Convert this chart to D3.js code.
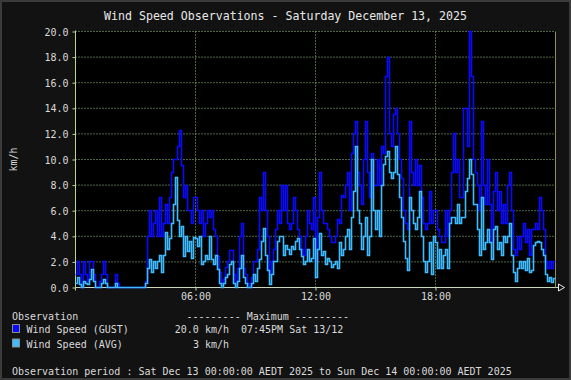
<!DOCTYPE html>
<html>
<head>
<meta charset="utf-8">
<script src="https://cdn.jsdelivr.net/npm/d3@7"></script>
<style>
  body { margin: 0; background: #111; }
  svg { display: block; }
  text { font-family: "DejaVu Sans Mono", monospace; fill: #dadada; }
</style>
</head>
<body>
<svg id="chart" width="571" height="380"></svg>
<script>
// readings every 6 minutes (0.1 h), Sat 13 Dec 2025 00:00 -> 24:00
var stepHours = 0.1

var gust = [
  1, 2, 1, 0, 2, 1, 0.5, 2, 2, 1,              // 00h
  0, 0, 0.5, 1, 2, 1, 0, 0, 0, 0,              // 01h
  1, 0.3, 0, 0, 0, 0, 0, 0, 0, 0,              // 02h
  0, 0, 0, 0, 0, 0.5, 4, 6, 4, 5,              // 03h
  6, 4, 7, 4, 5, 6.5, 5, 7, 9, 10,             // 04h
  10, 11, 12.3, 9.5, 7, 8, 6, 6, 5, 7,         // 05h
  7, 6, 5, 6, 4, 5, 6, 5.5, 6, 4.5,            // 06h
  4, 2.4, 1.2, 0.2, 0.6, 1.6, 2, 2.9, 2.9, 1,  // 07h
  0.2, 1.5, 4, 5, 1.5, 1, 0.3, 0, 0.8, 2,      // 08h
  2, 3, 7, 6, 9, 6, 4, 1, 2, 3,                // 09h
  4.5, 6, 5, 8, 6, 8, 5, 4.5, 5, 7,            // 10h
  6, 4.5, 4, 3, 2.5, 4, 6, 5, 4.5, 7,          // 11h
  2, 5.5, 9, 6, 5, 5, 4.5, 4, 3.5, 3.5,        // 12h
  4, 5.3, 5, 7.2, 7, 8, 9, 6, 10.5, 12,        // 13h
  13, 9, 8, 6.5, 10, 13, 9, 7, 10.5, 8,        // 14h
  8, 10, 8, 11, 10.5, 16.5, 18, 12, 11, 13.5,  // 15h
  14, 12, 10, 8.5, 6, 5, 4.5, 13, 9, 8,        // 16h
  10, 8, 9.5, 7, 5, 4.5, 5, 7.5, 5, 6,         // 17h
  6, 4.5, 4, 3.5, 3.5, 6, 4, 6, 9, 12,         // 18h
  9, 10, 7, 7, 14, 14, 11, 20, 16.5, 10,       // 19h
  9, 8, 6, 13, 8, 6.5, 10, 6.5, 3.5, 7.5,      // 20h
  9, 6, 7.5, 5, 6.5, 5, 8, 9, 6, 3,            // 21h
  2.5, 4, 3, 4, 5, 3.5, 4.5, 2.5, 4.5, 4.5,    // 22h
  5, 4.5, 7, 6, 4.5, 2, 1.5, 2, 1.5, 2         // 23h
]

var avg = [
  0.3, 0.8, 0.2, 0, 0.5, 0.3, 0.2, 0.6, 1.4, 0.5,
  0, 0, 0, 0.3, 0.6, 0.3, 0, 0, 0, 0,
  0.3, 0, 0, 0, 0, 0, 0, 0, 0, 0,
  0, 0, 0, 0, 0, 0.3, 1.5, 2.2, 1.2, 2,
  1.5, 2, 2.5, 1.2, 2.5, 4.3, 3, 3.8, 5, 6.5,
  8.6, 5.2, 4, 4.8, 2.4, 4, 2.8, 3.6, 2.3, 3.9,
  3.8, 3.2, 4, 1.8, 2, 2.5, 2.2, 4, 2.2, 1.8,
  2.5, 1.4, 0.3, 0, 0.3, 0.8, 1, 1.8, 2, 0.3,
  0, 0.5, 1.5, 2.5, 0.8, 0.3, 0, 0, 0.3, 1,
  0.5, 1.5, 2.2, 3.6, 4.6, 2.5, 1.3, 0.2, 1, 2,
  2, 3.6, 4, 4, 2.5, 3.3, 3, 2.6, 3.2, 3,
  3.6, 3.8, 3, 2.4, 1.8, 2, 3, 2, 2.3, 3.8,
  0.8, 3, 4.2, 2.5, 2.8, 1.8, 2.3, 2, 1.6, 1.8,
  2, 1.5, 3.5, 2.5, 3, 4, 4.5, 3, 5.5, 7.5,
  11, 6, 5, 3, 4, 5.5, 2.5, 4, 10, 6,
  4.5, 6, 4, 8, 9.6, 10.2, 10.6, 9, 8.5, 9,
  11, 8.8, 7, 5.5, 3.6, 2.3, 1.3, 7, 6, 5,
  4.5, 5.5, 7.5, 4, 2, 1.2, 2, 3.5, 1, 4,
  3.5, 1.5, 3, 1.5, 2.5, 3, 1.5, 5, 5.5, 5.5,
  5, 6.5, 5, 5.5, 5.5, 7.5, 8.5, 10, 8.8, 6.5,
  6.5, 4.5, 2.5, 7, 3, 3.5, 4.5, 3.5, 2.2, 4.5,
  4.8, 3, 3.5, 2.5, 4, 3.5, 4, 5, 2.5, 1.2,
  0.5, 1.5, 2, 1.5, 2, 1.3, 2.3, 1.2, 1.3, 3.3,
  3.5, 3.6, 3.5, 3, 2.5, 1, 0.5, 0.8, 0.4, 0.7
]

var yTicks = [0, 2, 4, 6, 8, 10, 12, 14, 16, 18, 20]
var xTicks = [6, 12, 18]
var xTickLabels = ["06:00", "12:00", "18:00"]

var title = "Wind Speed Observations - Saturday December 13, 2025"
var seriesNames = ["Wind Speed (GUST)", "Wind Speed (AVG)"]
var seriesMax = ["20.0 km/h", "3 km/h"]
var maxWhen = "07:45PM Sat 13/12"
var period = "Observation period : Sat Dec 13 00:00:00 AEDT 2025 to Sun Dec 14 00:00:00 AEDT 2025"

var gustColor = "#0a0aff", avgColor = "#3fbcff"
var gridColor = "#9ccc8c"

var svg = d3.select("#chart")

svg.append("rect").attr("width", 571).attr("height", 380).attr("fill", "#121212")
svg.append("rect").attr("x", 1).attr("y", 1).attr("width", 569).attr("height", 378)
  .attr("fill", "none").attr("stroke", "#3a3a3a").attr("stroke-width", 2)

var x = d3.scaleLinear().domain([0, 24]).range([75.5, 555.5])
var y = d3.scaleLinear().domain([0, 20]).range([287.5, 31.5])

// plot background
svg.append("rect").attr("x", 75).attr("y", 31).attr("width", 481).attr("height", 257).attr("fill", "#000")

svg.append("text")
  .attr("x", 285.5).attr("y", 19.5)
  .attr("text-anchor", "middle")
  .style("font-size", "11.6px")
  .style("fill", "#e8e8e8")
  .text(title)

// grid
var grid = svg.append("g")
grid.selectAll(".hgrid").data(yTicks.filter(function(d){ return d > 0 }))
  .enter().append("line")
    .attr("x1", x(0)).attr("x2", x(24))
    .attr("y1", function(d){ return y(d) }).attr("y2", function(d){ return y(d) })
    .attr("stroke", gridColor).attr("stroke-dasharray", "1,2")
grid.selectAll(".vgrid").data(xTicks)
  .enter().append("line")
    .attr("x1", function(d){ return x(d) }).attr("x2", function(d){ return x(d) })
    .attr("y1", y(0)).attr("y2", y(20))
    .attr("stroke", gridColor).attr("stroke-dasharray", "1,2")

// axes
var yAxis = d3.axisLeft(y).tickValues(yTicks).tickSize(3).tickFormat(d3.format(".1f"))
var gy = svg.append("g").attr("transform", "translate(" + x(0) + ",0)").call(yAxis)
gy.select(".domain").remove()
gy.selectAll(".tick line").attr("stroke", "#b6d890")
gy.selectAll(".tick text").attr("x", -7).attr("dy", "0.35em")
  .style("font-size", "10px").style("font-family", "DejaVu Sans Mono")

var xAxis = d3.axisBottom(x).tickValues(xTicks).tickSize(3)
  .tickFormat(function(d, i){ return xTickLabels[i] })
var gx = svg.append("g").attr("transform", "translate(0," + y(0) + ")").call(xAxis)
gx.select(".domain").remove()
gx.selectAll(".tick line").attr("stroke", "#c8d8b8")
gx.selectAll(".tick text").attr("y", 5).attr("dy", "0.71em")
  .style("font-size", "10px").style("font-family", "DejaVu Sans Mono")

svg.append("line").attr("x1", x(0)).attr("x2", x(24) + 3).attr("y1", y(0)).attr("y2", y(0))
  .attr("stroke", "#c8d8b8")
svg.append("line").attr("x1", x(0)).attr("x2", x(0)).attr("y1", y(0) + 3).attr("y2", y(20) - 1)
  .attr("stroke", "#b6d890")
svg.append("line").attr("x1", x(24)).attr("x2", x(24)).attr("y1", y(0)).attr("y2", y(20))
  .attr("stroke", "#8e8e48")
// arrow at end of time axis
svg.append("path")
  .attr("d", "M" + (x(24) + 3) + "," + (y(0) - 3.5) + "l6,3.5l-6,3.5z")
  .attr("fill", "none").attr("stroke", "#e8e8e8")

// data
function withEnd(vals){
  var pts = vals.map(function(v, i){ return [i * stepHours, v] })
  pts.push([24, vals[vals.length - 1]])
  return pts
}
var line = d3.line()
  .x(function(d){ return x(d[0]) })
  .y(function(d){ return Math.round(y(d[1]) - 0.5) + 0.5 })
  .curve(d3.curveStepAfter)

svg.append("path").datum(withEnd(gust)).attr("d", line)
  .attr("fill", "none").attr("stroke", gustColor).attr("stroke-width", 1.6)
svg.append("path").datum(withEnd(avg)).attr("d", line)
  .attr("fill", "none").attr("stroke", avgColor).attr("stroke-width", 1.6)

// y label
svg.append("text")
  .attr("transform", "translate(17," + y(10) + ") rotate(-90)")
  .attr("text-anchor", "middle")
  .style("font-size", "10px")
  .text("km/h")

// legend
var lg = svg.append("g").style("font-size", "10px")
lg.append("text").attr("x", 12).attr("y", 320).text("Observation")
lg.append("text").attr("x", 186.5).attr("y", 320).text("--------- Maximum ---------")

var rows = [0, 1]
var colors = [gustColor, avgColor]
rows.forEach(function(i){
  var by = 333 + i * 14.5
  lg.append("rect").attr("x", 12.5).attr("y", by - 8.5).attr("width", 7).attr("height", 8)
    .attr("fill", colors[i]).attr("stroke", "#8a8a8a")
  lg.append("text").attr("x", 26.5).attr("y", by).text(seriesNames[i])
  lg.append("text").attr("x", 229).attr("y", by).attr("text-anchor", "end").text(seriesMax[i])
})
lg.append("text").attr("x", 241).attr("y", 333).text(maxWhen)
lg.append("text").attr("x", 12).attr("y", 375).text(period)
</script>
</body>
</html>
